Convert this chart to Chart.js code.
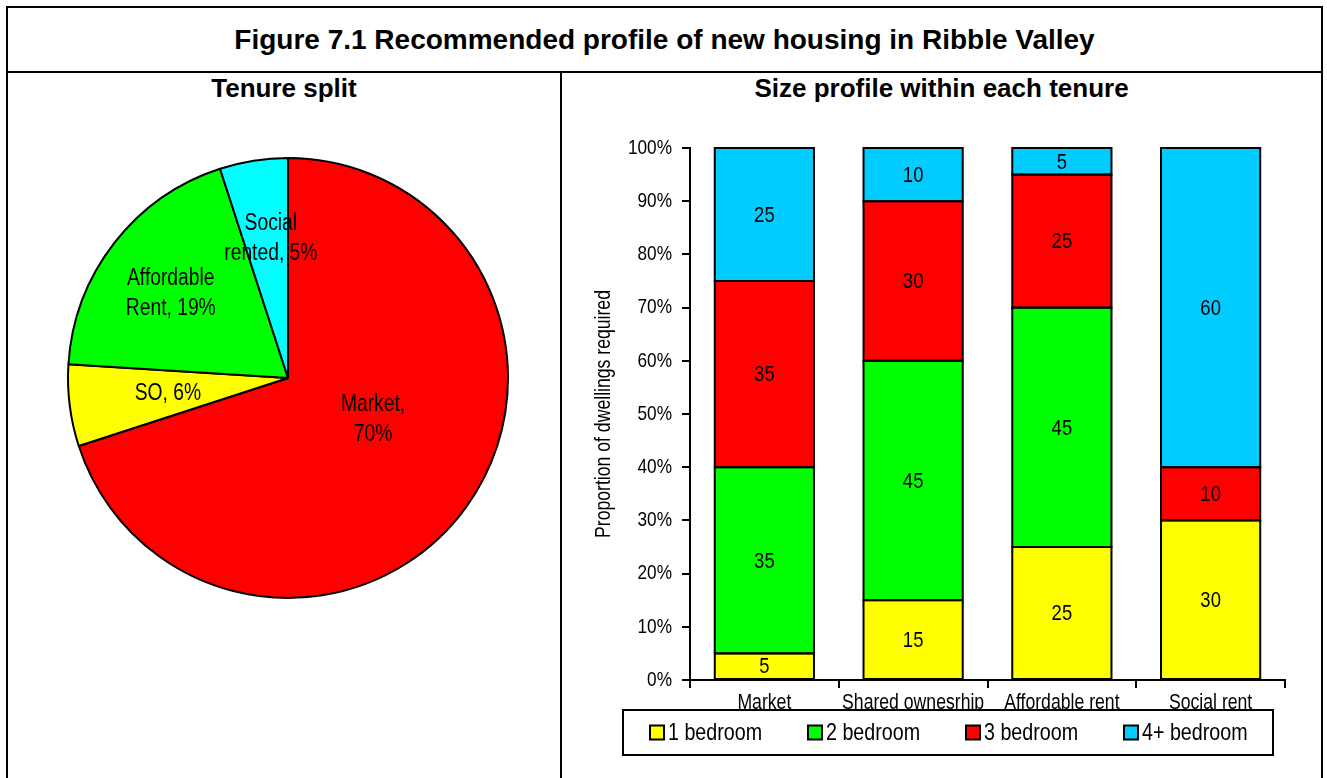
<!DOCTYPE html>
<html lang="en">
<head>
    <meta charset="UTF-8">
    <title>Figure 7.1 Recommended profile of new housing in Ribble Valley</title>
    <script src="https://cdn.jsdelivr.net/npm/chart.js"></script>
    <style>
        body { margin: 0; width: 1327px; height: 778px; background: #fff; position: relative; overflow: hidden;
               font-family: 'Liberation Sans', Arial, sans-serif; }
        .line { position: absolute; background: #000; }
        .txt { position: absolute; font-weight: bold; text-align: center; color: #000; white-space: nowrap; }
        canvas { position: absolute; }
    </style>
</head>
<body>
    <div class="line" style="left:6px; top:6px; width:1317px; height:2px;"></div>
    <div class="line" style="left:6px; top:6px; width:2px; height:772px;"></div>
    <div class="line" style="left:1321px; top:6px; width:2px; height:772px;"></div>
    <div class="line" style="left:6px; top:71px; width:1317px; height:2px;"></div>
    <div class="line" style="left:560px; top:71px; width:2px; height:707px;"></div>

    <div class="txt" style="left:8px; width:1313px; top:24px; font-size:28px; line-height:32px;">Figure 7.1 Recommended profile of new housing in Ribble Valley</div>
    <div class="txt" style="left:8px; width:552px; top:73px; font-size:26px; line-height:30px;">Tenure split</div>
    <div class="txt" style="left:562px; width:759px; top:73px; font-size:26px; line-height:30px;">Size profile within each tenure</div>

    <canvas id="pieChart" style="left:58px; top:148px;" width="460" height="460"></canvas>
    <canvas id="barChart" style="left:562px; top:73px;" width="759" height="705"></canvas>

    <script>
        // Tenure split (pie)
        const pieCategories = ['Market', 'SO', 'Affordable Rent', 'Social rented'];
        const pieValues = [70, 6, 19, 5];
        const pieColors = ['#FF0000', '#FFFF00', '#00FF00', '#00FFFF'];
        const pieWrap = [true, false, true, true];

        // Size profile within each tenure (stacked bars)
        const tenures = ['Market', 'Shared ownesrhip', 'Affordable rent', 'Social rent'];
        const oneBed = [5, 15, 25, 30];
        const twoBed = [35, 45, 45, 0];
        const threeBed = [35, 30, 25, 10];
        const fourBed = [25, 10, 5, 60];
        const sizeLabels = ['1 bedroom', '2 bedroom', '3 bedroom', '4+ bedroom'];
        const sizeColors = ['#FFFF00', '#00FF00', '#FF0000', '#00CCFF'];
        const yTitle = 'Proportion of dwellings required';

        const FONT = "'Liberation Sans', Arial, sans-serif";
        const SQUEEZE = 0.82; // the original text is a narrow Arial

        // draw text squeezed horizontally (in its own direction)
        function narrowText(ctx, text, x, y, size, align, rot) {
            ctx.save();
            ctx.translate(x, y);
            if (rot) ctx.rotate(rot);
            ctx.scale(SQUEEZE, 1);
            ctx.font = size + 'px ' + FONT;
            ctx.fillStyle = '#000';
            ctx.textAlign = align;
            ctx.textBaseline = 'middle';
            ctx.fillText(text, 0, 0);
            ctx.restore();
        }

        // labels inside the pie slices
        const pieLabelPlugin = {
            id: 'pieLabels',
            afterDatasetsDraw(chart, args, opts) {
                const ctx = chart.ctx;
                chart.getDatasetMeta(0).data.forEach((arc, i) => {
                    const text = pieCategories[i] + ', ' + pieValues[i] + '%';
                    let lines = [text];
                    if (pieWrap[i]) {
                        const k = text.indexOf(' ');
                        lines = [text.slice(0, k), text.slice(k + 1)];
                    }
                    const mid = (arc.startAngle + arc.endAngle) / 2 + opts.shift[i] * Math.PI / 180;
                    const r = arc.outerRadius * opts.radius[i];
                    const x = arc.x + Math.cos(mid) * r;
                    const y = arc.y + Math.sin(mid) * r;
                    lines.forEach((ln, j) => {
                        narrowText(ctx, ln, x, y + (j - (lines.length - 1) / 2) * 30, 23.5, 'center');
                    });
                });
            }
        };

        new Chart(document.getElementById('pieChart'), {
            type: 'pie',
            data: {
                labels: pieCategories,
                datasets: [{
                    data: pieValues,
                    backgroundColor: pieColors,
                    borderColor: '#000',
                    borderWidth: 2
                }]
            },
            options: {
                responsive: false,
                animation: false,
                layout: { padding: 9 },
                plugins: {
                    legend: { display: false },
                    tooltip: { enabled: false },
                    pieLabels: { radius: [0.43, 0.55, 0.657, 0.64], shift: [-10, 0, -2, 2] }
                }
            },
            plugins: [pieLabelPlugin]
        });

        // black outlines and value labels for the bar segments
        const barValuePlugin = {
            id: 'barValues',
            afterDatasetsDraw(chart) {
                const ctx = chart.ctx;
                ctx.save();
                ctx.strokeStyle = '#000';
                ctx.lineWidth = 2;
                chart.data.datasets.forEach((ds, d) => {
                    chart.getDatasetMeta(d).data.forEach((bar, i) => {
                        if (!ds.data[i]) return;
                        ctx.strokeRect(bar.x - bar.width / 2, bar.y, bar.width, bar.base - bar.y);
                    });
                });
                ctx.restore();
                chart.data.datasets.forEach((ds, d) => {
                    chart.getDatasetMeta(d).data.forEach((bar, i) => {
                        if (!ds.data[i]) return;
                        narrowText(ctx, String(ds.data[i]), bar.x, (bar.y + bar.base) / 2 + 1, 22.5, 'center');
                    });
                });
            }
        };

        // axis texts in the narrow face
        const axisTextPlugin = {
            id: 'axisText',
            afterDraw(chart) {
                const ctx = chart.ctx;
                const a = chart.chartArea;
                const ys = chart.scales.y, xs = chart.scales.x;
                ys.ticks.forEach(t => {
                    narrowText(ctx, t.value + '%', a.left - 18, ys.getPixelForValue(t.value), 21, 'right');
                });
                xs.ticks.forEach((t, i) => {
                    narrowText(ctx, chart.data.labels[i], xs.getPixelForValue(i), a.bottom + 23, 21.5, 'center');
                });
                narrowText(ctx, yTitle, 42, (a.top + a.bottom) / 2, 21.5, 'center', -Math.PI / 2);
            }
        };

        // boxed legend below the axis (it covers the lower part of the category labels)
        const boxLegendPlugin = {
            id: 'boxLegend',
            afterDraw(chart) {
                const ctx = chart.ctx;
                const a = chart.chartArea;
                const left = a.left - 67, right = a.right - 12;
                const top = a.bottom + 30, h = 45;
                ctx.save();
                ctx.fillStyle = '#fff';
                ctx.fillRect(left, top, right - left, h);
                ctx.lineWidth = 2;
                ctx.strokeStyle = '#000';
                ctx.strokeRect(left, top, right - left, h);
                chart.data.datasets.forEach((ds, i) => {
                    const x = left + 27 + i * 158;
                    const cy = top + h / 2;
                    ctx.fillStyle = ds.backgroundColor;
                    ctx.fillRect(x, cy - 7, 14, 14);
                    ctx.strokeRect(x, cy - 7, 14, 14);
                    narrowText(ctx, ds.label, x + 18, cy + 1, 24, 'left');
                });
                ctx.restore();
            }
        };

        const seriesData = [oneBed, twoBed, threeBed, fourBed];

        new Chart(document.getElementById('barChart'), {
            type: 'bar',
            data: {
                labels: tenures,
                datasets: seriesData.map((vals, i) => ({
                    label: sizeLabels[i],
                    data: vals,
                    backgroundColor: sizeColors[i],
                    borderWidth: 0,
                    inflateAmount: 0,
                    barPercentage: 0.667,
                    categoryPercentage: 1
                }))
            },
            options: {
                responsive: false,
                animation: false,
                layout: { padding: { left: 0, top: 75, right: 36, bottom: 0 } },
                plugins: {
                    legend: { display: false },
                    tooltip: { enabled: false }
                },
                scales: {
                    x: {
                        stacked: true,
                        afterFit(scale) { scale.height = 98; },
                        grid: { drawOnChartArea: false, drawTicks: true, tickLength: 8, color: '#000', lineWidth: 2, offset: true },
                        border: { color: '#000', width: 2 },
                        ticks: { display: false, autoSkip: false }
                    },
                    y: {
                        stacked: true,
                        min: 0,
                        max: 100,
                        afterFit(scale) { scale.width = 128; },
                        grid: { drawOnChartArea: false, drawTicks: true, tickLength: 8, color: '#000', lineWidth: 2 },
                        border: { color: '#000', width: 2 },
                        ticks: { display: false, stepSize: 10, autoSkip: false }
                    }
                }
            },
            plugins: [barValuePlugin, axisTextPlugin, boxLegendPlugin]
        });
    </script>
</body>
</html>
